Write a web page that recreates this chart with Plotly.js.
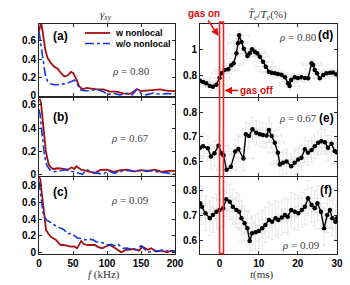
<!DOCTYPE html>
<html>
<head>
<meta charset="utf-8">
<script src="https://cdn.plot.ly/plotly-3.0.1.min.js"></script>
<style>html,body{margin:0;padding:0;background:#fff;}#chart{width:350px;height:285px;}</style>
</head>
<body>
<div id="chart"></div>
<script>
// ---------- DATA: left column, gamma_xy spectra ----------
const seriesNames = ["w nonlocal", "w/o nonlocal"];
const rhoLabels = ["0.80", "0.67", "0.09"];
const panelLabels = ["(a)", "(b)", "(c)", "(d)", "(e)", "(f)"];

// (a) rho = 0.80
const fA_w = [0, 1.5, 3, 5.4, 7, 9.3, 12.7, 17.6, 22.5, 27.5, 32.4, 37.3, 42, 47, 50.5, 54.4, 59.3, 64, 70, 75, 85, 95, 104, 114, 124, 134, 144, 150, 158, 168, 178, 187, 197, 200];
const gA_w = [0.70, 0.79, 0.80, 0.70, 0.60, 0.50, 0.41, 0.355, 0.315, 0.295, 0.245, 0.21, 0.22, 0.26, 0.245, 0.19, 0.10, 0.07, 0.085, 0.08, 0.07, 0.07, 0.045, 0.045, 0.025, 0.02, 0.07, 0.05, 0.055, 0.06, 0.07, 0.055, 0.05, 0.05];
const fA_wo = [0, 2.9, 5.4, 9.3, 12.7, 17.6, 25, 32.4, 41, 47, 52, 56.9, 61.8, 68, 75, 85, 95, 100, 109, 119, 129, 137, 144, 150, 158, 168, 178, 188, 200];
const gA_wo = [0.70, 0.535, 0.39, 0.225, 0.155, 0.128, 0.117, 0.128, 0.135, 0.153, 0.17, 0.117, 0.062, 0.055, 0.055, 0.07, 0.044, 0.01, 0.025, 0.01, 0.025, 0.01, 0.07, 0.025, 0.01, 0.03, 0.015, 0.025, 0.02];

// (b) rho = 0.67
const fB_w = [0, 1.5, 3, 4.4, 6.4, 7.8, 10.3, 14.2, 17.6, 21, 28, 36, 43, 48, 52, 55, 62, 70, 76, 82, 90, 100, 110, 120, 130, 140, 150, 160, 170, 180, 190, 200];
const gB_w = [0.64, 0.645, 0.615, 0.51, 0.43, 0.33, 0.19, 0.086, 0.058, 0.046, 0.052, 0.046, 0.04, 0.06, 0.045, 0.07, 0.04, 0.03, 0.02, 0.008, 0.037, 0.04, 0.02, 0.035, 0.04, 0.025, 0.035, 0.03, 0.04, 0.02, 0.03, 0.03];
const fB_wo = [0, 1.5, 3, 5.4, 7.8, 11.3, 16, 21, 26, 32, 38, 45, 52, 58, 64, 70, 78, 86, 94, 102, 110, 118, 126, 134, 142, 150, 158, 166, 174, 182, 190, 200];
const gB_wo = [0.56, 0.52, 0.44, 0.31, 0.17, 0.08, 0.037, 0.025, 0.023, 0.03, 0.04, 0.03, 0.02, 0.01, 0.0, 0.04, 0.02, 0.01, 0.0, 0.03, 0.01, 0.02, 0.035, 0.03, 0.02, 0.035, 0.025, 0.03, 0.02, 0.015, 0.01, 0.0];

// (c) rho = 0.09
const fC_w = [0, 2, 4, 6.4, 8, 10.3, 14, 17.6, 21, 25, 29, 32, 36, 40, 47, 52, 56, 62, 66, 72, 78, 82, 88, 93, 98, 104, 110, 115, 121, 127, 133, 140, 147, 152, 160, 165, 172, 180, 188, 195, 200];
const gC_w = [0.90, 0.88, 0.72, 0.55, 0.40, 0.27, 0.22, 0.187, 0.17, 0.148, 0.11, 0.088, 0.09, 0.08, 0.068, 0.07, 0.048, 0.136, 0.10, 0.088, 0.09, 0.088, 0.06, 0.048, 0.07, 0.088, 0.06, 0.028, 0.0, 0.028, 0.03, 0.04, 0.02, 0.068, 0.03, 0.05, 0.01, 0.02, 0.0, 0.02, 0.01];
const fC_wo = [0, 2.9, 6.4, 9.3, 12, 15.2, 19, 22.5, 27, 32.4, 37, 42, 47, 52, 56.6, 62, 68, 74, 80, 84, 90, 96, 101, 106, 111, 116.7, 121, 124, 130, 138.7, 144, 150, 155, 160, 165, 170, 176, 182, 188, 194, 200];
const gC_wo = [0.85, 0.65, 0.45, 0.41, 0.38, 0.37, 0.34, 0.33, 0.30, 0.29, 0.27, 0.22, 0.23, 0.20, 0.17, 0.165, 0.15, 0.16, 0.148, 0.128, 0.12, 0.11, 0.088, 0.095, 0.08, 0.096, 0.06, 0.048, 0.05, 0.028, 0.035, 0.08, 0.04, 0.0, 0.01, 0.02, 0.015, 0.03, 0.02, 0.01, 0.015];

// ---------- DATA: right column, Te fluctuation (%) vs t (ms) ----------
const tD = [-5.0, -4.2, -3.4, -2.5, -1.7, -0.8, 0.0, 0.5, 1.3, 2.2, 3.0, 3.6, 4.3, 4.7, 5.0, 5.6, 6.2, 7.1, 7.7, 8.3, 9.0, 9.6, 10.3, 11.1, 11.8, 12.6, 13.3, 14.1, 14.9, 15.8, 16.7, 17.5, 17.9, 18.3, 19.2, 20.0, 20.9, 21.8, 22.6, 23.5, 23.9, 24.3, 24.9, 25.6, 26.5, 27.3, 28.2, 29.0, 29.9];
const teD = [0.765, 0.755, 0.745, 0.725, 0.72, 0.735, 0.785, 0.82, 0.845, 0.85, 0.88, 0.895, 0.97, 1.045, 1.105, 1.055, 1.005, 0.95, 0.97, 1.0, 0.982, 0.97, 0.945, 0.907, 0.87, 0.832, 0.825, 0.82, 0.815, 0.81, 0.79, 0.745, 0.725, 0.77, 0.79, 0.785, 0.79, 0.785, 0.783, 0.895, 0.882, 0.845, 0.82, 0.783, 0.807, 0.82, 0.825, 0.827, 0.812];

const tE = [-5.0, -4.2, -3.0, -2.2, -1.3, -0.3, 0.55, 1.0, 1.8, 2.9, 4.0, 4.8, 6.1, 6.7, 7.5, 8.4, 9.4, 10.3, 11.1, 12.0, 12.6, 13.3, 14.1, 14.9, 15.4, 16.2, 17.1, 18.3, 19.2, 20.1, 20.9, 21.8, 22.6, 23.5, 24.3, 25.2, 26.0, 26.9, 27.7, 28.6, 29.4, 29.9];
const teE = [0.655, 0.662, 0.653, 0.62, 0.633, 0.664, 0.633, 0.625, 0.566, 0.578, 0.64, 0.65, 0.612, 0.71, 0.703, 0.73, 0.716, 0.71, 0.707, 0.705, 0.727, 0.703, 0.676, 0.635, 0.588, 0.595, 0.60, 0.58, 0.595, 0.608, 0.615, 0.649, 0.635, 0.646, 0.662, 0.676, 0.682, 0.678, 0.655, 0.672, 0.642, 0.637];

const tF = [-5.0, -4.5, -3.6, -2.5, -1.7, -0.8, 0.0, 0.9, 1.7, 2.6, 3.4, 4.3, 5.0, 5.6, 6.4, 7.1, 7.7, 8.3, 9.2, 10.0, 10.9, 11.7, 12.6, 13.4, 14.3, 15.0, 15.9, 16.7, 17.4, 18.3, 19.2, 20.1, 21.0, 21.8, 22.6, 23.5, 24.3, 25.0, 25.9, 26.7, 27.5, 28.2, 28.8, 29.6, 30.0];
const teF = [0.747, 0.733, 0.707, 0.687, 0.70, 0.713, 0.72, 0.727, 0.763, 0.753, 0.733, 0.72, 0.713, 0.687, 0.667, 0.647, 0.596, 0.627, 0.631, 0.636, 0.647, 0.66, 0.68, 0.673, 0.687, 0.68, 0.69, 0.70, 0.693, 0.72, 0.713, 0.707, 0.72, 0.733, 0.767, 0.74, 0.727, 0.747, 0.713, 0.647, 0.70, 0.72, 0.687, 0.673, 0.687];

// gas puff window (ms)
const gasOn = 0, gasOff = 1;

// ---------- styling / layout helpers ----------
const W = 350, H = 285;
const X = px => px / W;
const Y = py => 1 - py / H;
const RED = '#a50f0f', BLUE = '#1238e0', AX = '#262626';
const tickFont = {family: 'Liberation Sans, Arial, sans-serif', size: 10, color: '#000', weight: 'bold'};

function axisBase(extra) {
  return Object.assign({
    showline: true, mirror: 'ticks', ticks: 'inside', ticklen: 3, tickwidth: 1,
    linecolor: AX, tickcolor: AX, linewidth: 1, zeroline: false, showgrid: false,
    tickfont: tickFont, fixedrange: true
  }, extra);
}

function specTrace(x, y, name, xa, ya) {
  const isW = name === seriesNames[0];
  return {x: x, y: y, name: name, xaxis: xa, yaxis: ya, type: 'scatter', mode: 'lines',
    line: isW ? {color: RED, width: 1.8} : {color: BLUE, width: 1.6, dash: 'dashdot'},
    showlegend: false, hoverinfo: 'skip'};
}
function teTrace(x, y, xa, ya, ex, ey) {
  return {x: x, y: y, xaxis: xa, yaxis: ya, type: 'scatter', mode: 'lines+markers',
    line: {color: '#000', width: 1.4}, marker: {color: '#000', size: 4.5},
    error_x: {type: 'constant', value: ex, color: '#e0e0e0', thickness: 0.7, width: 2},
    error_y: {type: 'constant', value: ey, color: '#e0e0e0', thickness: 0.7, width: 2},
    showlegend: false, hoverinfo: 'skip'};
}

const data = [
  specTrace(fA_w, gA_w, seriesNames[0], 'x', 'y'),
  specTrace(fA_wo, gA_wo, seriesNames[1], 'x', 'y'),
  specTrace(fB_w, gB_w, seriesNames[0], 'x2', 'y2'),
  specTrace(fB_wo, gB_wo, seriesNames[1], 'x2', 'y2'),
  specTrace(fC_w, gC_w, seriesNames[0], 'x3', 'y3'),
  specTrace(fC_wo, gC_wo, seriesNames[1], 'x3', 'y3'),
  teTrace(tD, teD, 'x4', 'y4', 2.5, 0.03),
  teTrace(tE, teE, 'x5', 'y5', 2.5, 0.05),
  teTrace(tF, teF, 'x6', 'y6', 2.5, 0.07)
];

const leftDom = [X(39), X(175)], rightDom = [X(200), X(337)];
const fTicks = [0, 50, 100, 150, 200], tTicks = [0, 10, 20, 30];

const layout = {
  width: W, height: H, margin: {l: 0, r: 0, t: 0, b: 0},
  paper_bgcolor: '#fff', plot_bgcolor: '#fff', showlegend: false,
  xaxis: axisBase({domain: leftDom, range: [0, 200], anchor: 'y', tickvals: fTicks, showticklabels: false}),
  xaxis2: axisBase({domain: leftDom, range: [0, 200], anchor: 'y2', tickvals: fTicks, showticklabels: false}),
  xaxis3: axisBase({domain: leftDom, range: [0, 200], anchor: 'y3', tickvals: fTicks}),
  yaxis: axisBase({domain: [Y(96), Y(24)], range: [-0.003, 0.782], anchor: 'x', tickvals: [0, 0.2, 0.4, 0.6]}),
  yaxis2: axisBase({domain: [Y(176), Y(98)], range: [-0.015, 0.66], anchor: 'x2', tickvals: [0, 0.2, 0.4, 0.6]}),
  yaxis3: axisBase({domain: [Y(253.5), Y(177)], range: [-0.014, 0.904], anchor: 'x3', tickvals: [0, 0.2, 0.4, 0.6, 0.8]}),
  xaxis4: axisBase({domain: rightDom, range: [-5, 30], anchor: 'y4', tickvals: tTicks, showticklabels: false}),
  xaxis5: axisBase({domain: rightDom, range: [-5, 30], anchor: 'y5', tickvals: tTicks, showticklabels: false}),
  xaxis6: axisBase({domain: rightDom, range: [-5, 30], anchor: 'y6', tickvals: tTicks}),
  yaxis4: axisBase({domain: [Y(96.5), Y(24)], range: [0.646, 1.19], anchor: 'x4', tickvals: [0.8, 1, 1.2]}),
  yaxis5: axisBase({domain: [Y(175.5), Y(98)], range: [0.543, 0.857], anchor: 'x5', tickvals: [0.6, 0.7, 0.8]}),
  yaxis6: axisBase({domain: [Y(253.5), Y(177)], range: [0.546, 0.852], anchor: 'x6', tickvals: [0.6, 0.7, 0.8]}),
  shapes: [
    // gas puff window
    {type: 'rect', xref: 'x4', yref: 'paper', x0: gasOn, x1: gasOff, y0: Y(253.5), y1: Y(22),
     line: {color: '#ff1a1a', width: 1.5}, fillcolor: 'rgba(0,0,0,0)', layer: 'above'},
    // legend samples
    {type: 'line', xref: 'paper', yref: 'paper', x0: X(85), x1: X(110), y0: Y(33), y1: Y(33), line: {color: RED, width: 1.8}},
    {type: 'line', xref: 'paper', yref: 'paper', x0: X(85), x1: X(110), y0: Y(43.5), y1: Y(43.5), line: {color: BLUE, width: 1.6, dash: 'dashdot'}}
  ],
  annotations: []
};

const A = layout.annotations;
function txt(px, py, text, font, xanchor) {
  A.push({xref: 'paper', yref: 'paper', x: X(px), y: Y(py), text: text, showarrow: false,
    xanchor: xanchor || 'center', yanchor: 'middle', font: font});
}
const labFont = {family: 'Liberation Sans, Arial, sans-serif', size: 12, color: '#000', weight: 'bold'};
const rhoFont = {family: 'Liberation Serif, DejaVu Serif, serif', size: 11, color: '#444'};
const titleFont = {family: 'Liberation Serif, DejaVu Serif, serif', size: 11, color: '#333'};
const legFont = {family: 'Liberation Sans, Arial, sans-serif', size: 9, color: '#000', weight: 'bold'};
const gasFont = {family: 'Liberation Sans, Arial, sans-serif', size: 10, color: '#e01010', weight: 'bold'};

// panel labels
txt(60.5, 36, panelLabels[0], labFont);
txt(60.7, 116.7, panelLabels[1], labFont);
txt(60, 192.3, panelLabels[2], labFont);
txt(325, 34.5, panelLabels[3], labFont);
txt(326, 117.7, panelLabels[4], labFont);
txt(326, 190, panelLabels[5], labFont);
// rho labels
txt(130.5, 70.5, '<i>ρ</i> = ' + rhoLabels[0], rhoFont);
txt(129.5, 137.7, '<i>ρ</i> = ' + rhoLabels[1], rhoFont);
txt(130, 200, '<i>ρ</i> = ' + rhoLabels[2], rhoFont);
txt(298, 36.7, '<i>ρ</i> = ' + rhoLabels[0], rhoFont);
txt(298, 117.7, '<i>ρ</i> = ' + rhoLabels[1], rhoFont);
txt(301, 245, '<i>ρ</i> = ' + rhoLabels[2], rhoFont);
// titles
txt(106, 15, '<i>γ</i><sub><i>xy</i></sub>', titleFont);
txt(267, 15, '<i>T̃</i><sub><i>e</i></sub>/<i>T</i><sub><i>e</i></sub>(%)', titleFont);
txt(104, 274.5, '<i>f</i> (kHz)', titleFont);
txt(262, 274.5, '<i>t</i>(ms)', titleFont);
// legend text
txt(113, 33, seriesNames[0], legFont, 'left');
txt(113, 43.5, seriesNames[1], legFont, 'left');
// gas on / off arrows
A.push({xref: 'paper', yref: 'paper', x: X(218.5), y: Y(36), ax: -15, ay: -22.5, text: 'gas on',
  showarrow: true, arrowhead: 2, arrowsize: 1, arrowwidth: 1.5, arrowcolor: '#e01010', font: gasFont});
A.push({xref: 'paper', yref: 'paper', x: X(224.5), y: Y(90.5), ax: 31.5, ay: 0, text: 'gas off',
  showarrow: true, arrowhead: 2, arrowsize: 1, arrowwidth: 1.5, arrowcolor: '#e01010', font: gasFont});

Plotly.newPlot('chart', data, layout, {staticPlot: true, displayModeBar: false});
</script>
</body>
</html>
